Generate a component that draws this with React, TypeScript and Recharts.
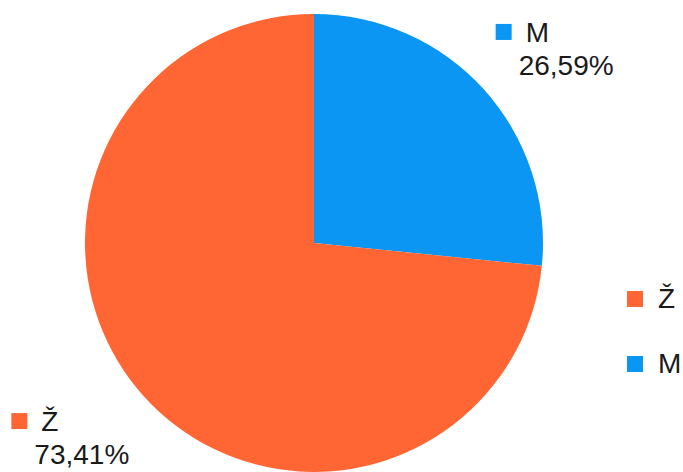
import { PieChart, Pie, Cell, Legend } from 'recharts';

const names = ['M', 'Ž'];
const shares = [26.59, 73.41];
const colors = ['#0A96F2', '#FF6633'];
const legendOrder = ['Ž', 'M'];

const data = names.map((name, i) => ({ name, value: shares[i] }));

const FONT = '"Liberation Sans", Arial, sans-serif';
const RAD = Math.PI / 180;

const renderLabel = (props: any) => {
  const { cx, cy, midAngle, outerRadius, index, name, value } = props;
  const cos = Math.cos(-midAngle * RAD);
  const sin = Math.sin(-midAngle * RAD);
  const r = outerRadius + 20;
  const px = cx + r * cos;
  const py = cy + r * sin;
  // block sits outside the pie, growing away from the centre
  const sx = cos >= 0 ? px - 3 : px - 118;
  const sy = sin <= 0 ? py - 52 : py + 3;
  return (
    <g>
      <rect x={sx} y={sy} width={16} height={16} fill={colors[index]} />
      <text x={sx + 30} y={sy + 18} fill="#1a1a1a" fontSize={28} fontFamily={FONT}>
        {name}
      </text>
      <text x={sx + 23} y={sy + 51} fill="#1a1a1a" fontSize={28} fontFamily={FONT}>
        {value.toFixed(2).replace('.', ',')}%
      </text>
    </g>
  );
};

const renderLegend = () => (
  <div style={{ fontFamily: FONT, fontSize: 28, color: '#1a1a1a' }}>
    {legendOrder.map((n) => (
      <div key={n} style={{ display: 'flex', alignItems: 'center', height: 65 }}>
        <span
          style={{
            display: 'inline-block',
            width: 16,
            height: 16,
            background: colors[names.indexOf(n)],
            marginRight: 15,
          }}
        />
        <span>{n}</span>
      </div>
    ))}
  </div>
);

export default function App() {
  return (
    <div style={{ position: 'absolute', left: 0, top: 0, background: '#fff' }}>
      <PieChart width={683} height={472} margin={{ top: 0, right: 0, bottom: 0, left: 0 }}>
        <Pie
          data={data}
          dataKey="value"
          nameKey="name"
          cx={314}
          cy={243}
          outerRadius={229}
          startAngle={90}
          endAngle={-270}
          stroke="none"
          label={renderLabel}
          labelLine={false}
          isAnimationActive={false}
        >
          {data.map((d, i) => (
            <Cell key={d.name} fill={colors[i]} />
          ))}
        </Pie>
        <Legend
          content={renderLegend}
          wrapperStyle={{ position: 'absolute', left: 627, top: 266, width: 60 }}
        />
      </PieChart>
    </div>
  );
}
